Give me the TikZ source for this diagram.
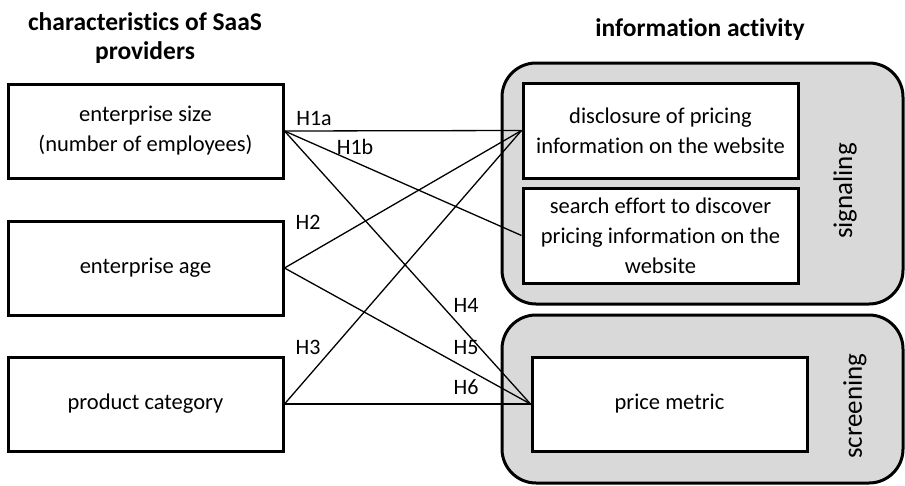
\documentclass[tikz,border=0pt]{standalone}
\usepackage{fontspec}
\setmainfont[Ligatures=CommonOff]{Carlito}
\definecolor{groupgray}{HTML}{D9D9D9}
\begin{document}
\begin{tikzpicture}[x=1pt,y=-1pt,
  box/.style={draw=black, line width=3pt, fill=white, minimum width=275pt,
    minimum height=94pt, align=center, inner sep=0pt,
    font=\fontsize{22.5}{30}\selectfont},
  group/.style={draw=black, line width=3pt, fill=groupgray,
    rounded corners=34pt, inner sep=0pt},
  grouplabel/.style={rotate=90, inner sep=0pt, font=\fontsize{27}{30}\selectfont},
  title/.style={align=center, inner sep=0pt, font=\fontsize{25.5}{29}\selectfont\bfseries},
  hyp/.style={inner sep=0pt, font=\fontsize{22}{26}\selectfont},
  link/.style={line width=1.3pt}]
\useasboundingbox (0,0) rectangle (905,485);

% column headings
\node[title] (tleft) at (145,38) {characteristics of SaaS\\providers};
\node[title] (tright) at (700,30) {information activity};

% grouping panels
\node[group, minimum width=401pt, minimum height=241pt] (sig) at (702.5,183.5) {};
\node[group, minimum width=401pt, minimum height=168pt] (scr) at (702.5,399) {};
\node[grouplabel] (siglab) at (845,191) {signaling};
\node[grouplabel] (scrlab) at (855,406) {screening};

% provider characteristics
\node[box] (size) at (145.5,131) {enterprise size\\(number of employees)};
\node[box] (age) at (145.5,268) {enterprise age};
\node[box] (cat) at (145.5,404) {product category};

% information activities
\node[box, minimum height=95pt] (disc) at (660.5,130.5) {disclosure of pricing\\information on the website};
\node[box, minimum height=95pt] (search) at (660.5,235.5) {search effort to discover\\pricing information on the\\website};
\node[box] (metric) at (669.5,404) {price metric};

% hypothesised relations
\draw[link] (size.east) -- (disc.west);
\draw[link] (size.east) -- (search.west);
\draw[link] (size.east) -- (metric.west);
\draw[link] (age.east) -- (disc.west);
\draw[link] (age.east) -- (metric.west);
\draw[link] (cat.east) -- (disc.west);
\draw[link] (cat.east) -- (metric.west);

% hypothesis labels
\node[hyp] (h1a) at (314,118) {H1a};
\node[hyp] (h1b) at (355,147) {H1b};
\node[hyp] (h2) at (308,222) {H2};
\node[hyp] (h3) at (308,347) {H3};
\node[hyp] (h4) at (466,305) {H4};
\node[hyp] (h5) at (466,348) {H5};
\node[hyp] (h6) at (466,387) {H6};
\end{tikzpicture}
\end{document}
